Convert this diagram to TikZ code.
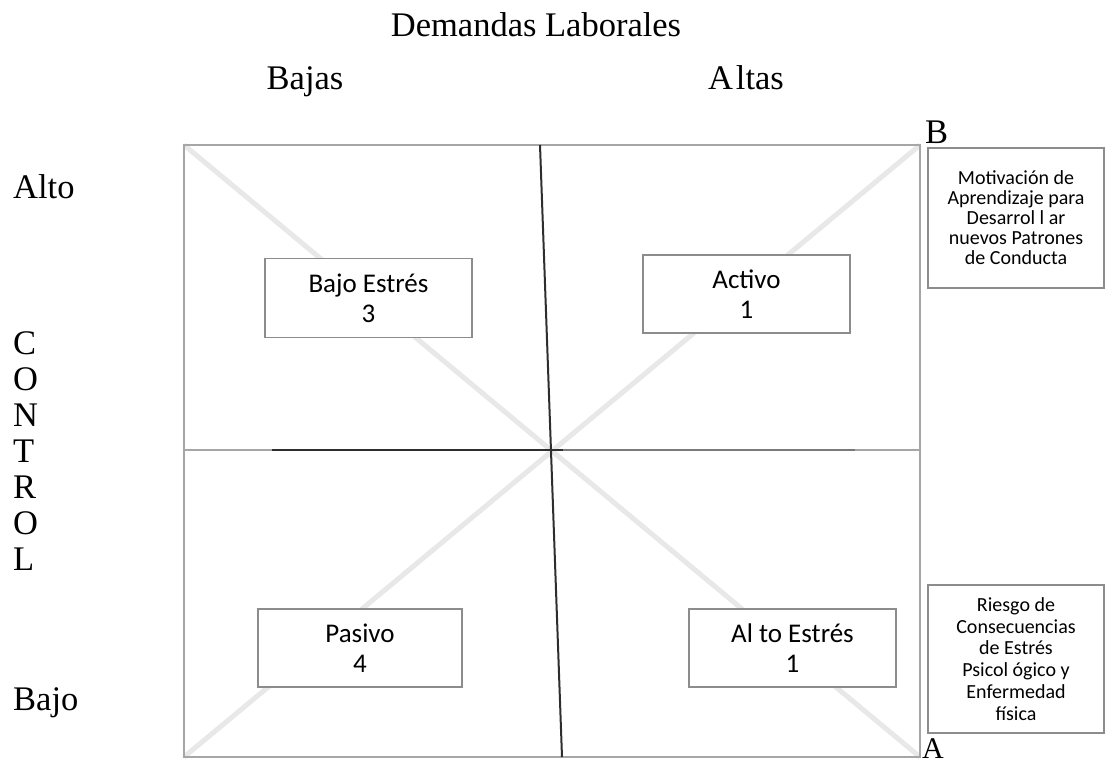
\documentclass[tikz,border=0pt]{standalone}
\usepackage{fontspec}
\setmainfont{Liberation Serif}
\newfontfamily\boxfont{Carlito}
\definecolor{framegray}{HTML}{A6A6A6}
\definecolor{midgray}{HTML}{7A7A7A}
\definecolor{darkline}{HTML}{2E2E2E}
\definecolor{diaggray}{HTML}{E8E8E8}
\definecolor{boxgray}{HTML}{8C8C8C}
\begin{document}
\begin{tikzpicture}[x=1pt,y=-1pt,
  lbl/.style={font=\fontsize{34.5}{36}\selectfont, inner sep=0pt, text=black},
  quad/.style={draw=boxgray, line width=1.5pt, fill=white, inner sep=0pt, align=center,
    font=\boxfont\fontsize{27}{30}\selectfont, minimum width=207pt, minimum height=79pt},
  side/.style={draw=boxgray, line width=1.5pt, fill=white, inner sep=0pt, align=center,
    minimum width=176pt, font=\boxfont\fontsize{20}{20}\selectfont},
  frameline/.style={draw=framegray, line width=2.2pt},
  diagline/.style={draw=diaggray, line width=5pt},
  divider/.style={draw=darkline, line width=2pt}
  ]
\useasboundingbox (0,0) rectangle (1108,765);
\fill[white] (0,0) rectangle (1108,765);
% corners and divider points
\coordinate (TL) at (184,145);
\coordinate (TR) at (920,145);
\coordinate (BL) at (184,757);
\coordinate (BR) at (920,757);
\coordinate (VT) at (540,145);
\coordinate (VB) at (562,757);
\coordinate (HL) at (184,450);
\coordinate (HR) at (920,450);
\coordinate (H1) at (272,450);
\coordinate (H2) at (563,450);
\coordinate (H3) at (855,450);
% diagonals
\draw[diagline] (TL) -- (BR);
\draw[diagline] (BL) -- (TR);
% frame
\draw[frameline] (TL) rectangle (BR);
% horizontal divider
\draw[frameline] (HL) -- (HR);
\draw[divider] (H1) -- (H2);
\draw[draw=midgray, line width=2pt] (H2) -- (H3);
% vertical divider
\draw[divider] (VT) -- (VB);
% quadrant boxes
\node[quad] (bajoestres) at (368.5,298) {Bajo Estrés\\3};
\node[quad, minimum height=78pt] (activo) at (746.5,294) {Activo\\1};
\node[quad, minimum width=204pt, minimum height=78pt] (pasivo) at (360,648) {Pasivo\\4};
\node[quad, minimum height=78pt] (altoestres) at (792.5,648) {Al to Estrés\\1};
% side boxes
\node[side, minimum height=140pt] (motiv) at (1016,218)
  {Motivación de\\Aprendizaje para\\Desarrol l ar\\nuevos Patrones\\de Conducta};
\node[side, minimum height=148pt, font=\boxfont\fontsize{20}{21.8}\selectfont] (riesgo) at (1016,659)
  {Riesgo de\\Consecuencias\\de Estrés\\Psicol ógico y\\Enfermedad\\física};
% labels
\node[lbl, anchor=base] (title) at (536,37) {Demandas Laborales};
\node[lbl, anchor=base] (bajas) at (305,90) {Bajas};
\node[lbl, anchor=base] (altas) at (746,90) {A\kern3pt ltas};
\node[lbl, anchor=base west] (altoL) at (13,198) {Alto};
\node[lbl, anchor=base west] (bajoL) at (13,710) {Bajo};
\foreach \l [count=\i] in {C,O,N,T,R,O,L}
  \node[lbl, anchor=base west] (ctrl\i) at (13,{354+36*(\i-1)}) {\l};
\node[lbl, anchor=base west] (labB) at (925,143) {B};
\node[lbl, anchor=base west, font=\fontsize{30}{32}\selectfont] (labA) at (922,758) {A};
\end{tikzpicture}
\end{document}
